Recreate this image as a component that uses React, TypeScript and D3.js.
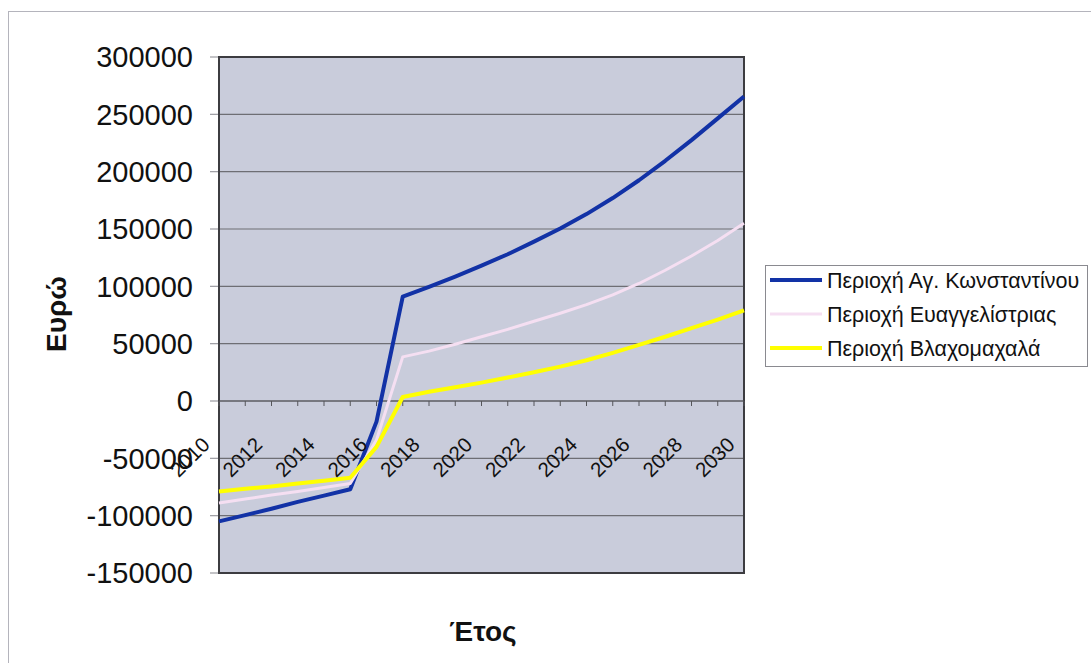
import React from "react";
import * as d3 from "d3";

const years: number[] = d3.range(2010, 2031);
const yTicks: number[] = [-150000, -100000, -50000, 0, 50000, 100000, 150000, 200000, 250000, 300000];
const xLabelYears: number[] = [2010, 2012, 2014, 2016, 2018, 2020, 2022, 2024, 2026, 2028, 2030];

const seriesNames: string[] = [
  "Περιοχή Αγ. Κωνσταντίνου",
  "Περιοχή Ευαγγελίστριας",
  "Περιοχή Βλαχομαχαλά",
];
const seriesColors: string[] = ["#1232a6", "#f5dff2", "#ffff00"];
const seriesWidths: number[] = [4, 3, 4];

const agKonstantinou: number[] = [
  -105000, -99500, -94000, -88000, -82500, -77000, -18000, 91000, 99500, 108500,
  118000, 128000, 139000, 150500, 163000, 177000, 192500, 209500, 227500, 246500, 265500,
];
const evangelistrias: number[] = [
  -89000, -85500, -82000, -79000, -75500, -72000, -34000, 38500, 43500, 49500,
  56000, 62500, 69500, 76500, 84000, 92500, 102500, 114000, 126500, 140000, 155000,
];
const vlachomachala: number[] = [
  -79000, -76500, -74500, -72000, -69500, -67000, -40000, 3500, 8000, 12000,
  16000, 20500, 25000, 30000, 35500, 42000, 49000, 56000, 63500, 71000, 79000,
];

const seriesValues: number[][] = [agKonstantinou, evangelistrias, vlachomachala];

const FONT = "'Liberation Sans', Arial, sans-serif";

export default function App() {
  const left = 219, right = 744, top = 57, bottom = 573;
  const x = d3.scalePoint<number>().domain(years).range([left, right]);
  const y = d3.scaleLinear().domain([-150000, 300000]).range([bottom, top]);
  const line = d3
    .line<number>()
    .x((_, i) => x(years[i]) as number)
    .y((d) => y(d));
  const y0 = y(0);

  return (
    <svg
      width={1091}
      height={663}
      style={{ position: "absolute", left: 0, top: 0, background: "#ffffff" }}
      fontFamily={FONT}
    >
      <rect x={0} y={0} width={1091} height={663} fill="#ffffff" />
      <rect x={8.5} y={11.5} width={1100} height={700} fill="none" stroke="#b4b4bc" strokeWidth={1} />
      {/* plot area */}
      <rect x={left} y={top} width={right - left} height={bottom - top} fill="#c9ccdb" />
      {yTicks.map((t) => (
        <g key={t}>
          {t !== -150000 && t !== 300000 && (
            <line x1={left} x2={right} y1={y(t)} y2={y(t)} stroke="#6e6e74" strokeWidth={1.2} />
          )}
          <line x1={left - 9} x2={left} y1={y(t)} y2={y(t)} stroke="#9a9aa0" strokeWidth={1.2} />
          <text
            x={193}
            y={y(t)}
            dy="0.36em"
            textAnchor="end"
            fontSize={29}
            fill="#111"
          >
            {t}
          </text>
        </g>
      ))}
      <rect x={left} y={top} width={right - left} height={bottom - top} fill="none" stroke="#3c3c40" strokeWidth={2} />
      {/* category axis at zero */}
      <line x1={left} x2={right} y1={y0} y2={y0} stroke="#55555a" strokeWidth={1.2} />
      {years.map((yr) => (
        <line key={yr} x1={x(yr)} x2={x(yr)} y1={y0} y2={y0 + 5} stroke="#55555a" strokeWidth={1} />
      ))}
      {/* series */}
      {seriesValues.map((vals, i) => (
        <path
          key={i}
          d={line(vals) || ""}
          fill="none"
          stroke={seriesColors[i]}
          strokeWidth={seriesWidths[i]}
          strokeLinejoin="round"
        />
      ))}
      {xLabelYears.map((yr) => {
        const px = (x(yr) as number) - 8;
        const py = 446;
        return (
          <text
            key={yr}
            x={px}
            y={py}
            textAnchor="end"
            fontSize={20.5}
            fill="#111"
            transform={`rotate(-45 ${px} ${py})`}
          >
            {yr}
          </text>
        );
      })}
      {/* axis titles */}
      <text
        x={66}
        y={314}
        textAnchor="middle"
        fontSize={28}
        fontWeight="bold"
        fill="#111"
        transform="rotate(-90 66 314)"
      >
        Ευρώ
      </text>
      <text x={483} y={641} textAnchor="middle" fontSize={28} fontWeight="bold" fill="#111">
        Έτος
      </text>
      {/* legend */}
      <rect x={765.5} y={265.5} width={322} height={101} fill="#ffffff" stroke="#8a8a90" strokeWidth={1} />
      {seriesNames.map((name, i) => {
        const ly = 280 + i * 34;
        return (
          <g key={name}>
            <line x1={770} x2={822} y1={ly} y2={ly} stroke={seriesColors[i]} strokeWidth={seriesWidths[i]} />
            <text x={827} y={ly} dy="0.36em" fontSize={21.5} fill="#111">
              {name}
            </text>
          </g>
        );
      })}
    </svg>
  );
}
